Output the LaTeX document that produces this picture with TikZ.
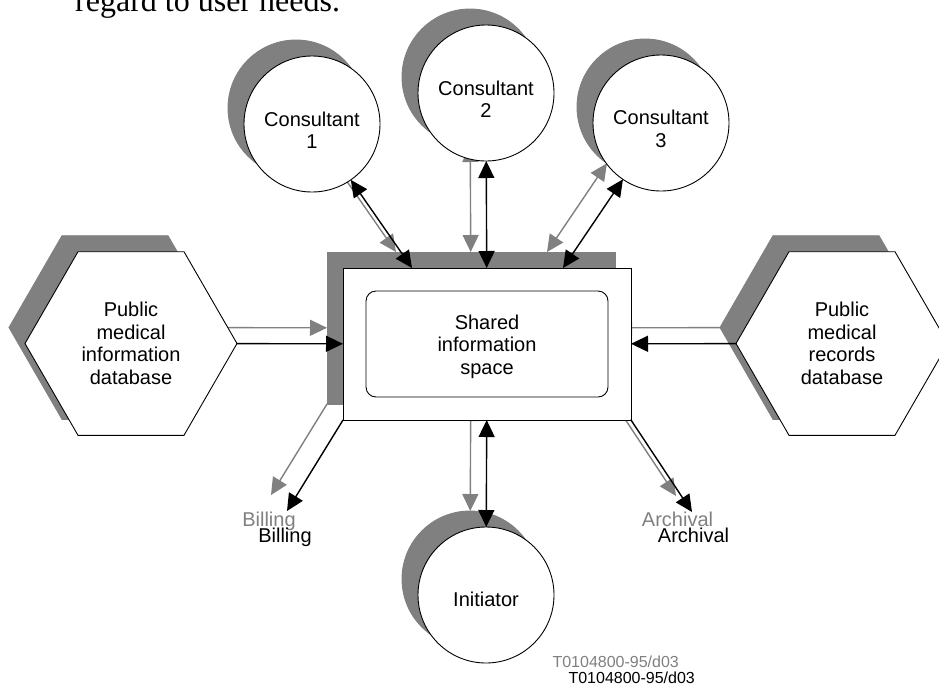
\documentclass[tikz,border=0pt]{standalone}
\usepackage{fontspec}
\setmainfont{Liberation Sans}
\newfontfamily\timesfont{Liberation Serif}
\usepackage{tikz}
\usetikzlibrary{arrows.meta,shapes.geometric,positioning}
\begin{document}
\begin{tikzpicture}[x=1pt,y=-1pt,line cap=round,font=\fontsize{20}{22.5}\selectfont,
	>={Triangle[length=17pt,width=16pt]}]
	\tikzstyle{person}=[circle,line width=.9pt,minimum size=136pt,inner sep=0pt,outer sep=0pt,align=center,text height=49pt];
	\tikzstyle{dbase}=[regular polygon,regular polygon sides=6,line width=.9pt,minimum size=212pt,inner sep=0pt,outer sep=0pt,align=center];
	\tikzstyle{flow}=[line width=1.4pt];
	\useasboundingbox (0,0) rectangle (939,686);
	\node[anchor=base west,inner sep=0pt,font=\timesfont\fontsize{32}{36}\selectfont] (intro) at (75,11) {regard to user needs.};
	% shadow layer first, then the drawing itself
	\foreach \d/\ink/\paper/\l in {-16/gray/gray/s,0/black/white/t}{
	\begin{scope}[shift={(\d,\d)},color=\ink]
	\node[person,draw,fill=\paper] (c1\l) at (312,124) {Consultant\\1};
	\node[person,draw,fill=\paper] (c2\l) at (486,93) {Consultant\\2};
	\node[person,draw,fill=\paper] (c3\l) at (661,123) {Consultant\\3};
	\node[person,draw,fill=\paper,text height=22.5pt] (ini\l) at (486,595) {Initiator};
	\node[dbase,draw,fill=\paper] (pmi\l) at (131,343.5) {Public\\medical\\information\\database};
	\node[dbase,draw,fill=\paper] (pmr\l) at (842,343.5) {Public\\medical\\records\\database};
	\node[draw,fill=\paper,line width=.9pt,minimum width=288pt,minimum height=152pt,inner sep=0pt,outer sep=0pt] (box\l) at (487,344) {};
	\node[draw,rounded corners=10pt,line width=.9pt,minimum width=242pt,minimum height=106pt,align=center,text height=64.5pt] (space\l) at (box\l) {Shared\\information\\space};
	\coordinate (billtip\l) at (287,511);
	\coordinate (archtip\l) at (692,512);
	\node[anchor=base] (bill\l) at (285,542) {Billing};
	\node[anchor=base] (arch\l) at (693.5,542.5) {Archival};
	\node[anchor=base west,font=\fontsize{16}{18}\selectfont] (ref\l) at (565,683) {T0104800-95/d03};
	\draw[flow,<->] (c1\l) -- ([xshift=-75pt]box\l.north);
	\draw[flow,<->] (c2\l) -- (box\l);
	\draw[flow,<->] (c3\l) -- ([xshift=76pt]box\l.north);
	\draw[flow,<->] (box\l) -- (ini\l);
	\draw[flow,->] (pmi\l) -- (box\l);
	\draw[flow,->] (pmr\l) -- (box\l);
	\draw[flow,->] (box\l.south west) -- (billtip\l);
	\draw[flow,->] (box\l.south east) -- (archtip\l);
	\end{scope}
	}
\end{tikzpicture}
\end{document}
